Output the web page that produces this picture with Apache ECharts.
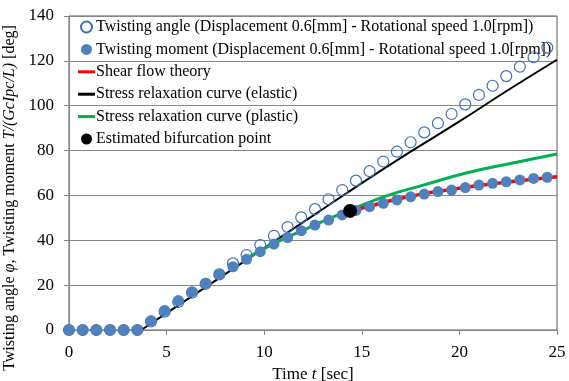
<!DOCTYPE html>
<html>
<head>
<meta charset="utf-8">
<script src="https://cdn.jsdelivr.net/npm/echarts@6/dist/echarts.min.js"></script>
<style>html,body{margin:0;padding:0;background:#fff}#c{width:569px;height:381px}</style>
</head>
<body>
<div id="c"></div>
<script>
// Sample times [sec]
var times = [0,0.7,1.4,2.1,2.8,3.5,4.2,4.9,5.6,6.3,7.0,7.7,8.4,9.1,9.8,10.5,11.2,11.9,12.6,13.3,14.0,14.7,15.4,16.1,16.8,17.5,18.2,18.9,19.6,20.3,21.0,21.7,22.4,23.1,23.8,24.5];
// Twisting angle [deg] (open circles)
var angle = [0,0,0,0,0,0,3.8,8.2,12.5,16.6,20.6,24.8,29.7,33.4,37.9,42.0,45.9,50.2,53.9,58.3,62.4,66.6,70.8,75.1,79.5,83.7,88.1,92.2,96.3,100.6,104.8,108.9,113.2,117.4,121.6,125.9];
// Twisting moment (filled circles)
var moment = [0,0,0,0,0,0,4.1,8.7,13.1,17.1,20.8,24.8,28.2,31.5,34.9,38.3,41.2,44.3,46.8,49.0,51.3,53.3,55.0,56.5,58.0,59.4,60.6,61.7,62.4,63.5,64.6,65.4,66.1,66.9,67.6,68.1];
// Shear flow theory (red)
var shearT = [14.4,15.4,16.8,18.2,19.6,21.0,22.4,23.8,25.0];
var shearV = [53.1,55.2,58.3,60.8,62.7,64.4,65.9,67.2,68.3];
// Stress relaxation curve (elastic, black)
var elasT = [3.7,5.0,7.5,10.0,12.5,15.0,17.5,20.0,22.5,25.0];
var elasV = [0,7.5,22.0,36.5,51.0,65.5,79.5,93.0,107.0,120.5];
// Stress relaxation curve (plastic, green)
var plasT = [9.1,10.5,12.0,13.3,14.4,15.4,16.5,18.15,20.4,22.8,25.0];
var plasV = [32.0,38.5,44.5,49.5,53.5,57.0,60.5,64.6,70.1,74.6,78.5];
// Estimated bifurcation point
var bifT = [14.4];
var bifV = [53.1];
// Axis ticks
var xTicks = {min:0, max:25, step:5};
var yTicks = {min:0, max:140, step:20};
var legendNames = [
  'Twisting angle (Displacement 0.6[mm] - Rotational speed 1.0[rpm])',
  'Twisting moment (Displacement 0.6[mm] - Rotational speed 1.0[rpm])',
  'Shear flow theory',
  'Stress relaxation curve (elastic)',
  'Stress relaxation curve (plastic)',
  'Estimated bifurcation point'
];

function zip(a,b){ return a.map(function(v,i){ return [v,b[i]]; }); }

var FONT = '"Liberation Serif","Times New Roman",serif';
var LINE_ICON = 'path://M0,0 L17,0 L17,3 L0,3 Z';
var chart = echarts.init(document.getElementById('c'), null, {renderer:'canvas'});
chart.setOption({
  animation:false,
  backgroundColor:'#fff',
  textStyle:{fontFamily:FONT},
  grid:{left:69, right:12, top:16, bottom:51, containLabel:false, outerBoundsMode:'none',
        show:true, borderColor:'#595959', borderWidth:1, backgroundColor:'transparent'},
  legend:{
    orient:'vertical', left:78, top:18, padding:0, itemGap:4.4,
    itemWidth:17, itemHeight:11, symbolKeepAspect:true,
    textStyle:{fontFamily:FONT, fontSize:16, color:'#000', lineHeight:18, padding:[0,0,0,-4]},
    data:[
      {name:legendNames[0]},
      {name:legendNames[1]},
      {name:legendNames[2], icon:LINE_ICON},
      {name:legendNames[3], icon:LINE_ICON},
      {name:legendNames[4], icon:LINE_ICON},
      {name:legendNames[5]}
    ]
  },
  xAxis:{
    type:'value', min:xTicks.min, max:xTicks.max, interval:xTicks.step,
    name:'{n|Time }{i|t}{n| [sec]}', nameLocation:'middle', nameGap:30,
    nameTextStyle:{rich:{n:{fontFamily:FONT,fontSize:17,color:'#000'},i:{fontFamily:FONT,fontSize:17,fontStyle:'italic',color:'#000'}}},
    axisLine:{lineStyle:{color:'#868686',width:1}},
    axisTick:{show:true, length:5, lineStyle:{color:'#868686'}},
    axisLabel:{fontFamily:FONT, fontSize:17, color:'#000', margin:14},
    splitLine:{show:false}
  },
  yAxis:{
    type:'value', min:yTicks.min, max:yTicks.max, interval:yTicks.step,
    name:'{n|Twisting angle }{i|φ}{n|, Twisting moment }{i|T/(GcIpc/L)}{n| [deg]}',
    nameLocation:'middle', nameGap:44, nameRotate:90,
    nameTextStyle:{padding:[0,50,0,0], rich:{n:{fontFamily:FONT,fontSize:16,color:'#000'},i:{fontFamily:FONT,fontSize:16,fontStyle:'italic',color:'#000'}}},
    axisLine:{show:true, lineStyle:{color:'#868686',width:1}},
    axisTick:{show:true, length:5, lineStyle:{color:'#868686'}},
    axisLabel:{fontFamily:FONT, fontSize:17, color:'#000', margin:15},
    splitLine:{show:true, lineStyle:{color:'#868686', width:1}}
  },
  series:[
    {name:legendNames[3], type:'line', data:zip(elasT,elasV), symbol:'none', smooth:true, z:2,
     lineStyle:{color:'#000', width:2}, itemStyle:{color:'#000'}},
    {name:legendNames[4], type:'line', data:zip(plasT,plasV), symbol:'none', smooth:true, z:2,
     lineStyle:{color:'#00b050', width:3}, itemStyle:{color:'#00b050'}},
    {name:legendNames[2], type:'line', data:zip(shearT,shearV), symbol:'none', smooth:true, z:3,
     lineStyle:{color:'#ff0000', width:3.5}, itemStyle:{color:'#ff0000'}},
    {name:legendNames[0], type:'scatter', data:zip(times,angle), symbol:'circle', symbolSize:11, z:4,
     itemStyle:{color:'rgba(255,255,255,0)', borderColor:'#3d6fb6', borderWidth:1.2, opacity:1}},
    {name:legendNames[1], type:'scatter', data:zip(times,moment), symbol:'circle', symbolSize:11, z:5,
     itemStyle:{color:'#4f81bd', borderWidth:0, opacity:1}},
    {name:legendNames[5], type:'scatter', data:zip(bifT,bifV), symbol:'circle', symbolSize:14, z:6,
     itemStyle:{color:'#000', opacity:1}}
  ]
});
</script>
</body>
</html>
